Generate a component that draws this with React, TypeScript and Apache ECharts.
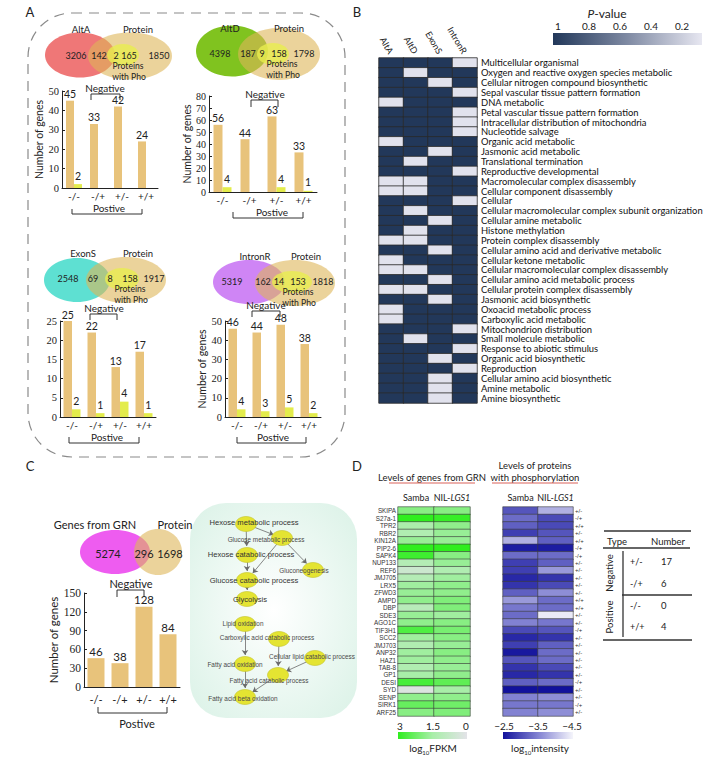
import React, { useEffect, useRef } from 'react';
import * as echarts from 'echarts';

// ---------------- data ----------------
const barCategories = ['-/-', '-/+', '+/-', '+/+'];

const altAGenes = [45, 33, 42, 24];
const altAPhos = [2, 0, 0, 0];
const altDGenes = [56, 44, 63, 33];
const altDPhos = [4, 0, 4, 1];
const exonSGenes = [25, 22, 13, 17];
const exonSPhos = [2, 1, 4, 1];
const intronRGenes = [46, 44, 48, 38];
const intronRPhos = [4, 3, 5, 2];
const grnGenes = [46, 38, 128, 84];

const vennAltA = [3206, 142, 2, 165, 1850];
const vennAltD = [4398, 187, 9, 158, 1798];
const vennExonS = [2548, 69, 8, 158, 1917];
const vennIntronR = [5319, 162, 14, 153, 1818];
const vennGRN = [5274, 296, 1698];

const goColumns = ['AltA', 'AltD', 'ExonS', 'IntronR'];
const goTerms = [
  'Multicellular organismal',
  'Oxygen and reactive oxygen species metabolic',
  'Cellular nitrogen compound biosynthetic',
  'Sepal vascular tissue pattern formation',
  'DNA metabolic',
  'Petal vascular tissue pattern formation',
  'Intracellular distribution of mitochondria',
  'Nucleotide salvage',
  'Organic acid metabolic',
  'Jasmonic acid metabolic',
  'Translational termination',
  'Reproductive developmental',
  'Macromolecular complex disassembly',
  'Cellular component disassembly',
  'Cellular',
  'Cellular macromolecular complex subunit organization',
  'Cellular amine metabolic',
  'Histone methylation',
  'Protein complex disassembly',
  'Cellular amino acid and derivative metabolic',
  'Cellular ketone metabolic',
  'Cellular macromolecular complex disassembly',
  'Cellular amino acid metabolic process',
  'Cellular protein complex disassembly',
  'Jasmonic acid biosynthetic',
  'Oxoacid metabolic process',
  'Carboxylic acid metabolic',
  'Mitochondrion distribution',
  'Small molecule metabolic',
  'Response to abiotic stimulus',
  'Organic acid biosynthetic',
  'Reproduction',
  'Cellular amino acid biosynthetic',
  'Amine metabolic',
  'Amine biosynthetic',
];
const pAltA = [1, 1, 1, 1, 0.1, 1, 1, 1, 0.1, 1, 1, 1, 0.1, 0.1, 1, 1, 1, 1, 0.1, 1, 0.1, 0.1, 1, 0.1, 1, 0.1, 0.1, 1, 1, 1, 1, 1, 1, 1, 1];
const pAltD = [1, 0.1, 1, 1, 1, 1, 1, 1, 1, 1, 0.1, 1, 0.1, 0.1, 1, 0.1, 1, 0.1, 0.1, 1, 1, 0.1, 1, 0.1, 1, 1, 1, 1, 0.1, 1, 1, 1, 1, 1, 1];
const pExonS = [1, 1, 0.1, 1, 1, 1, 1, 1, 1, 0.1, 1, 1, 1, 1, 1, 1, 0.1, 1, 1, 0.1, 1, 1, 0.1, 1, 0.1, 1, 1, 1, 1, 1, 0.1, 1, 0.1, 0.1, 0.1];
const pIntronR = [0.1, 1, 1, 0.1, 1, 0.1, 0.1, 0.1, 1, 1, 1, 0.1, 1, 1, 0.1, 1, 1, 1, 1, 1, 1, 1, 1, 1, 1, 1, 1, 0.1, 1, 0.1, 1, 0.1, 1, 1, 1];
const pValueTicks = [1, 0.8, 0.6, 0.4, 0.2];

const nodeNames = [
  'Hexose metabolic process',
  'Glucose metabolic process',
  'Hexose catabolic process',
  'Gluconeogenesis',
  'Glucose catabolic process',
  'Glycolysis',
  'Lipid oxidation',
  'Carboxylic acid catabolic process',
  'Fatty acid oxidation',
  'Cellular lipid catabolic process',
  'Fatty acid catabolic process',
  'Fatty acid beta oxidation',
];
const nodeX = [56, 92, 57, 123, 57, 57, 55, 89, 55, 125, 88, 55];
const nodeY = [21, 35, 52, 67, 77, 96, 121, 136, 161, 155, 172, 194];
const edgeFrom = [0, 0, 1, 1, 2, 4, 6, 7, 9, 8, 10];
const edgeTo = [1, 2, 3, 4, 4, 5, 8, 10, 10, 11, 11];

const genes = ['SKIPA', 'S27a-1', 'TPR2', 'RBR2', 'KIN12A', 'PIP2-6', 'SAPK4', 'NUP133', 'REF6', 'JMJ705', 'LRX5', 'ZFWD3', 'AMPD', 'DBP', 'SDE3', 'AGO1C', 'TIF3H1', 'SCC2', 'JMJ703', 'ANP32', 'HAZ1', 'TAB-8', 'GP1', 'DESI', 'SYD', 'SENP', 'SIRK1', 'ARF25'];
const sampleNames = ['Samba', 'NIL-LGS1'];
const fpkmSamba = [1.9, 3.0, 1.4, 1.3, 1.7, 3.0, 2.8, 1.2, 0.6, 1.2, 1.6, 1.7, 1.8, 1.1, 1.7, 1.8, 2.6, 1.6, 1.3, 1.6, 1.6, 1.3, 1.5, 2.7, 0.2, 1.8, 2.3, 1.9];
const fpkmNIL = [1.9, 2.9, 1.8, 1.7, 1.7, 3.0, 1.9, 1.7, 1.3, 1.6, 1.8, 1.8, 2.0, 2.0, 1.6, 1.9, 2.1, 1.9, 1.7, 1.9, 1.8, 1.7, 1.8, 2.4, 1.5, 1.8, 2.2, 2.0];
const intensitySamba = [-3.1, -3.3, -3.2, -2.9, -3.9, -2.6, -3.3, -2.9, -2.9, -2.7, -2.8, -3.2, -3.7, -3.4, -3.3, -3.5, -3.0, -2.7, -2.9, -2.55, -3.1, -2.8, -2.7, -3.2, -2.5, -3.5, -3.4, -3.5];
const intensityNIL = [-3.9, -3.0, -3.0, -3.1, -3.2, -2.6, -3.3, -3.2, -3.7, -2.8, -3.0, -3.6, -3.3, -3.3, -4.4, -3.4, -3.1, -2.8, -3.2, -3.3, -3.3, -3.0, -2.8, -3.3, -2.5, -3.6, -3.4, -3.6];
const regTypes = ['+/-', '-/+', '+/+', '+/-', '+/+', '-/+', '-/+', '+/-', '+/-', '+/-', '+/-', '+/-', '+/+', '+/+', '+/-', '+/-', '-/+', '+/-', '+/-', '+/-', '+/-', '+/-', '+/-', '-/+', '+/-', '+/-', '-/+', '+/-'];
const fpkmTicks = [3, 1.5, 0];
const intensityTicks = [-2.5, -3.5, -4.5];

const tableTypes = ['+/-', '-/+', '-/-', '+/+'];
const tableNumbers = [17, 6, 0, 4];

// ---------------- styles ----------------
const FONT = 'Lato, "Open Sans", sans-serif';
const SERIF = '"Liberation Serif", "DejaVu Serif", serif';
const ORANGE = '#e8c37b';
const YELLOW = '#e3ec4c';
const PROTEIN = '#deb658';
const INNER = '#e9ed4f';
const INK = '#222';

const T = (x: number, y: number, text: string, size = 10, extra: any = {}) => ({
  type: 'text',
  x,
  y,
  style: {
    text,
    fontSize: size,
    fontFamily: FONT,
    fill: INK,
    align: 'center',
    verticalAlign: 'middle',
    textAlign: 'center',
    textVerticalAlign: 'middle',
    ...extra,
  },
});
const L = (x1: number, y1: number, x2: number, y2: number, w = 1, color = INK) => ({
  type: 'line',
  shape: { x1, y1, x2, y2 },
  style: { stroke: color, lineWidth: w },
});

function vennEls(g: any, color: string, name: string, counts: number[], size = 9.5) {
  const els: any[] = [
    { type: 'ellipse', shape: { cx: g.l[0], cy: g.l[1], rx: g.l[2], ry: g.l[3] }, style: { fill: color } },
    { type: 'ellipse', shape: { cx: g.p[0], cy: g.p[1], rx: g.p[2], ry: g.p[3] }, style: { fill: PROTEIN, opacity: 0.6 } },
  ];
  if (g.i) {
    els.push({ type: 'ellipse', shape: { cx: g.i[0], cy: g.i[1], rx: g.i[2], ry: g.i[3] }, style: { fill: INNER, opacity: 0.8 } });
  }
  els.push(T(g.ln[0], g.ln[1], name, size));
  els.push(T(g.pn[0], g.pn[1], 'Protein', size));
  counts.forEach((c, k) => els.push(T(g.nx[k], g.ny, String(c), g.w ? 9 : size)));
  if (g.w) {
    els.push(T(g.w[0], g.w[1], 'Proteins', 8.6));
    els.push(T(g.w[0] + 1, g.w[1] + 11, 'with Pho', 8.6));
  }
  return els;
}

function bracket(x1: number, x2: number, y: number, leg: number, label: string, tx: number, ty: number, size = 10) {
  return [
    { type: 'polyline', shape: { points: [[x1, y + leg], [x1, y], [x2, y], [x2, y + leg]] }, style: { stroke: '#333', lineWidth: 1, fill: 'none' } },
    T(tx, ty, label, size),
  ];
}

function buildOption() {
  const grids: any[] = [];
  const xAxes: any[] = [];
  const yAxes: any[] = [];
  const series: any[] = [];
  const visualMaps: any[] = [];

  const addBars = (box: number[], max: number, interval: number, orangeVals: number[], yellowVals: number[] | null,
    showName: boolean, nameGap: number, barW: number, valSize: number, tickSize: number, labelMargin: number) => {
    const gi = grids.length;
    grids.push({ left: box[0], top: box[1], width: box[2], height: box[3] });
    xAxes.push({
      type: 'category', gridIndex: gi, data: barCategories,
      axisLine: { lineStyle: { color: INK, width: 1 } }, axisTick: { show: false },
      axisLabel: { interval: 0, fontFamily: FONT, fontSize: valSize, color: INK, margin: labelMargin },
    });
    yAxes.push({
      type: 'value', gridIndex: gi, min: 0, max, interval,
      splitLine: { show: false },
      axisLine: { show: true, lineStyle: { color: INK, width: 1 } },
      axisTick: { show: true, inside: true, length: 3, lineStyle: { color: INK } },
      axisLabel: { fontFamily: SERIF, fontSize: tickSize, color: INK, margin: 3 },
      name: showName ? 'Number of genes' : '', nameLocation: 'middle', nameGap,
      nameTextStyle: { fontFamily: FONT, fontSize: valSize + 0.5, color: INK },
    });
    series.push({
      type: 'bar', xAxisIndex: gi, yAxisIndex: gi, data: orangeVals, barWidth: barW, barGap: '0%',
      itemStyle: { color: ORANGE },
      label: { show: true, position: 'top', distance: 1, fontFamily: FONT, fontSize: valSize + 0.5, color: INK },
    });
    if (yellowVals) {
      series.push({
        type: 'bar', xAxisIndex: gi, yAxisIndex: gi, data: yellowVals, barWidth: barW, barGap: '0%',
        itemStyle: { color: YELLOW },
        label: { show: true, position: 'top', distance: 3, fontFamily: FONT, fontSize: valSize + 0.5, color: INK,
          formatter: (p: any) => (p.value ? String(p.value) : '') },
      });
    }
  };

  addBars([62, 91, 96, 97], 50, 10, altAGenes, altAPhos, true, 12, 8, 10, 10.5, 3);
  addBars([209, 96, 108, 96], 80, 10, altDGenes, altDPhos, true, 9, 9, 10, 10, 3);
  addBars([60, 321, 96, 96], 25, 5, exonSGenes, exonSPhos, false, 12, 8.5, 10, 10.5, 3);
  addBars([225, 321, 96, 96], 50, 10, intronRGenes, intronRPhos, true, 16, 8.5, 10, 10.5, 3);
  addBars([84, 593, 96, 94], 150, 30, grnGenes, null, true, 20, 17, 11, 11.5, 7);

  // ----- B heatmap -----
  {
    const gi = grids.length;
    grids.push({ left: 379, top: 58, width: 98, height: 345 });
    xAxes.push({
      type: 'category', gridIndex: gi, data: goColumns, position: 'top',
      axisLine: { show: false }, axisTick: { show: false },
      axisLabel: { rotate: 60, fontFamily: FONT, fontSize: 9, color: INK, margin: 5 },
    });
    yAxes.push({
      type: 'category', gridIndex: gi, data: goTerms, inverse: true, position: 'right',
      axisLine: { show: false }, axisTick: { show: false },
      axisLabel: { interval: 0, fontFamily: FONT, fontSize: 9.4, color: '#111', margin: 4, lineHeight: 9.8 },
    });
    const data: any[] = [];
    [pAltA, pAltD, pExonS, pIntronR].forEach((col, c) => col.forEach((v, r) => data.push([c, r, v])));
    visualMaps.push({
      type: 'continuous', show: false, seriesIndex: series.length, dimension: 2, min: 0.07, max: 1,
      inRange: { color: ['#e7e7f1', '#8a95ac', '#22385a'] },
    });
    series.push({
      type: 'heatmap', xAxisIndex: gi, yAxisIndex: gi, data,
      itemStyle: { borderColor: '#2a2a2a', borderWidth: 0.8 },
    });
  }

  // ----- D green heatmap -----
  const sampleLabel = {
    interval: 0, fontFamily: FONT, fontSize: 9, color: INK, margin: 5,
    formatter: (v: string) => (v === 'NIL-LGS1' ? '{n|NIL-}{i|LGS1}' : v),
    rich: { n: { fontFamily: FONT, fontSize: 9, color: INK }, i: { fontFamily: FONT, fontSize: 9, color: INK, fontStyle: 'italic' } },
  };
  {
    const gi = grids.length;
    grids.push({ left: 398, top: 507, width: 72, height: 209 });
    xAxes.push({ type: 'category', gridIndex: gi, data: sampleNames, position: 'top', axisLine: { show: false }, axisTick: { show: false }, axisLabel: sampleLabel });
    yAxes.push({
      type: 'category', gridIndex: gi, data: genes, inverse: true, position: 'left',
      axisLine: { show: false }, axisTick: { show: false },
      axisLabel: { interval: 0, fontFamily: '"Liberation Sans", sans-serif', fontSize: 6.3, color: '#333', margin: 2 },
    });
    const data: any[] = [];
    [fpkmSamba, fpkmNIL].forEach((col, c) => col.forEach((v, r) => data.push([c, r, v])));
    visualMaps.push({
      type: 'continuous', show: false, seriesIndex: series.length, dimension: 2, min: 0, max: 3,
      inRange: { color: ['#e3e3e8', '#a8eea8', '#2fee1e'] },
    });
    series.push({ type: 'heatmap', xAxisIndex: gi, yAxisIndex: gi, data, itemStyle: { borderColor: '#3a3a3a', borderWidth: 0.6 } });
  }

  // ----- D blue heatmap -----
  {
    const gi = grids.length;
    grids.push({ left: 503, top: 507, width: 70, height: 209 });
    xAxes.push({ type: 'category', gridIndex: gi, data: sampleNames, position: 'top', axisLine: { show: false }, axisTick: { show: false }, axisLabel: sampleLabel });
    yAxes.push({
      type: 'category', gridIndex: gi, data: genes, inverse: true, position: 'right',
      axisLine: { show: false }, axisTick: { show: false },
      axisLabel: { interval: 0, fontFamily: '"Liberation Sans", sans-serif', fontSize: 6, color: '#333', margin: 2,
        formatter: (_v: string, i: number) => regTypes[i] },
    });
    const data: any[] = [];
    [intensitySamba, intensityNIL].forEach((col, c) => col.forEach((v, r) => data.push([c, r, v])));
    visualMaps.push({
      type: 'continuous', show: false, seriesIndex: series.length, dimension: 2, min: -4.5, max: -2.5,
      inRange: { color: ['#f5f5fb', '#8282d2', '#12129c'] },
    });
    series.push({ type: 'heatmap', xAxisIndex: gi, yAxisIndex: gi, data, itemStyle: { borderColor: '#3a3a3a', borderWidth: 0.6 } });
  }

  // ----- C network -----
  {
    const gi = grids.length;
    grids.push({ left: 190, top: 503, width: 167, height: 215 });
    xAxes.push({ type: 'value', gridIndex: gi, min: 0, max: 167, show: false });
    yAxes.push({ type: 'value', gridIndex: gi, min: 0, max: 215, inverse: true, show: false });
    const labelOffsets = [[8, -2], [-16, 1], [4, -1], [-9, 0], [7, 0], [3, 0], [-2, -1], [-12, -2], [-10, 0], [-3, -2], [-9, 5], [-2, 1]];
    const big = [0, 2, 4, 5];
    series.push({
      type: 'graph', layout: 'none', coordinateSystem: 'cartesian2d', xAxisIndex: gi, yAxisIndex: gi,
      symbol: 'circle', symbolSize: [21, 15],
      itemStyle: { color: '#e4e432', borderColor: '#c4c42c', borderWidth: 0.6 },
      edgeSymbol: ['none', 'arrow'], edgeSymbolSize: 5,
      lineStyle: { color: '#6a6a6a', width: 0.8, opacity: 1, curveness: 0 },
      data: nodeNames.map((n, i) => ({
        name: n,
        value: [nodeX[i], nodeY[i]],
        label: {
          show: true, position: 'inside', offset: labelOffsets[i],
          fontFamily: '"Liberation Sans", sans-serif',
          fontSize: big.includes(i) ? 7.6 : 6.4, color: big.includes(i) ? '#333' : '#4a4a4a',
        },
      })),
      links: edgeFrom.map((s, k) => ({ source: s, target: edgeTo[k] })),
      emphasis: { disabled: true },
    });
  }

  // ---------------- graphics ----------------
  const g: any[] = [];
  // panel letters
  g.push(T(30, 12, 'A', 13), T(357, 12, 'B', 13), T(30, 466, 'C', 13), T(357, 466, 'D', 13));
  // dashed frame of A
  g.push({ type: 'rect', shape: { x: 28, y: 13, width: 317, height: 444, r: 44 }, style: { fill: 'none', stroke: '#8a8a8a', lineWidth: 1.2, lineDash: [10, 7] } });

  // venns
  g.push(...vennEls({ l: [80, 55, 35, 22.5], p: [130, 56, 42, 23.5], i: [123, 55, 16, 11], ln: [81, 29], pn: [138, 29], nx: [76, 99, 116, 129, 159], ny: 55, w: [128, 66] }, '#ef7777', 'AltA', vennAltA));
  g.push(...vennEls({ l: [232, 51, 36, 25.5], p: [279, 54, 41, 26], i: [273, 54, 16, 11], ln: [230, 28], pn: [289, 28], nx: [220, 248, 262, 279, 304], ny: 53, w: [282, 64] }, '#80c31f', 'AltD', vennAltD));
  g.push(...vennEls({ l: [77, 280, 33, 22], p: [126, 280, 40, 23], i: [122, 279, 17, 11], ln: [83, 253], pn: [138, 253], nx: [68, 93, 110, 130, 154], ny: 278, w: [130, 289] }, '#5ee0d2', 'ExonS', vennExonS));
  g.push(...vennEls({ l: [249, 282, 36, 22], p: [295, 283, 40, 23], i: [292, 282, 20, 11], ln: [255, 256], pn: [306, 256], nx: [232, 263, 279, 298, 323], ny: 281, w: [298, 292] }, '#cf85f5', 'IntronR', vennIntronR));
  g.push(...vennEls({ l: [115, 552, 35, 22], p: [158, 552, 24, 23], ln: [95, 524], pn: [175, 524], nx: [108, 144, 170], ny: 553 }, '#ee5cf0', 'Genes from GRN', vennGRN, 11));

  // brackets
  g.push(...bracket(91, 120, 94, 6, 'Negative', 105, 88));
  g.push(...bracket(72, 142, 214, -5, 'Postive', 109, 208));
  g.push(...bracket(251, 278, 100, 7, 'Negative', 265, 94));
  g.push(...bracket(233, 303, 218, -6, 'Postive', 272, 212));
  g.push(...bracket(90, 117, 314, 6, 'Negative', 104, 308));
  g.push(...bracket(69, 139, 443, -6, 'Postive', 107, 437));
  g.push(...bracket(252, 280, 311, 6, 'Negative', 266, 305));
  g.push(...bracket(237, 306, 443, -6, 'Postive', 273, 437));
  g.push(...bracket(117, 144, 590, 7, 'Negative', 131, 583, 11));
  g.push(...bracket(98, 167, 713, -6, 'Postive', 137, 723, 11));

  // network background
  g.push({
    type: 'rect', z: -1, shape: { x: 190, y: 503, width: 167, height: 215, r: 36 },
    style: { fill: new echarts.graphic.RadialGradient(0.5, 0.5, 0.75, [{ offset: 0, color: '#ffffff' }, { offset: 1, color: '#d8f1e5' }]) },
  });

  // B colorbar
  g.push({ type: 'text', x: 607, y: 13, style: { text: '{i|P}{n|-value}', align: 'center', verticalAlign: 'middle', textAlign: 'center', textVerticalAlign: 'middle',
    rich: { i: { fontSize: 12, fontFamily: FONT, fontStyle: 'italic', fill: INK, color: INK }, n: { fontSize: 12, fontFamily: FONT, fill: INK, color: INK } } } });
  g.push({ type: 'rect', shape: { x: 553, y: 33, width: 149, height: 12 },
    style: { fill: new echarts.graphic.LinearGradient(0, 0, 1, 0, [{ offset: 0, color: '#22385a' }, { offset: 0.5, color: '#7f8aa3' }, { offset: 1, color: '#e7e7f1' }]) } });
  pValueTicks.forEach((v) => g.push(T(558 + (1 - v) * 155, 26, String(v), 10)));

  // D headers
  g.push(T(432, 477, 'Levels of genes from GRN', 9.5));
  g.push(L(389, 483, 475, 483, 1.2, '#d9625a'));
  g.push(T(535, 465, 'Levels of proteins', 9.5));
  g.push(T(535, 477, 'with phosphorylation', 9.5));
  g.push(L(492, 483, 578, 483, 1.2, '#d9625a'));

  // D colorbars
  g.push({ type: 'rect', shape: { x: 398, y: 732, width: 69, height: 7 },
    style: { fill: new echarts.graphic.LinearGradient(0, 0, 1, 0, [{ offset: 0, color: '#2fee1e' }, { offset: 0.5, color: '#a8eea8' }, { offset: 1, color: '#e3e3e8' }]) } });
  fpkmTicks.forEach((v, k) => g.push(T(400 + k * 33, 726, String(v), 10)));
  g.push({ type: 'text', x: 433, y: 748, style: { text: '{a|log}{s|10}{a|FPKM}', align: 'center', verticalAlign: 'middle', textAlign: 'center', textVerticalAlign: 'middle',
    rich: { a: { fontSize: 10, fontFamily: FONT, fill: INK, color: INK, lineHeight: 14 }, s: { fontSize: 6, fontFamily: FONT, fill: INK, color: INK, lineHeight: 14, padding: [8, 0, 0, 0] } } } });
  g.push({ type: 'rect', shape: { x: 503, y: 732, width: 70, height: 7 },
    style: { fill: new echarts.graphic.LinearGradient(0, 0, 1, 0, [{ offset: 0, color: '#12129c' }, { offset: 0.5, color: '#8282d2' }, { offset: 1, color: '#f5f5fb' }]) } });
  intensityTicks.forEach((v, k) => g.push(T(504 + k * 34, 726, String(v).replace('-', '\u2212'), 10)));
  g.push({ type: 'text', x: 540, y: 748, style: { text: '{a|log}{s|10}{a|intensity}', align: 'center', verticalAlign: 'middle', textAlign: 'center', textVerticalAlign: 'middle',
    rich: { a: { fontSize: 10, fontFamily: FONT, fill: INK, color: INK, lineHeight: 14 }, s: { fontSize: 6, fontFamily: FONT, fill: INK, color: INK, lineHeight: 14, padding: [8, 0, 0, 0] } } } });

  // D table
  g.push(L(604, 531, 691, 531, 1.3, '#333'));
  g.push(T(617, 541, 'Type', 9.5), T(668, 541, 'Number', 9.5));
  g.push(L(603, 548, 690, 548, 1.3, '#333'));
  g.push(L(623, 551, 623, 637, 1.3, '#333'));
  g.push(L(622, 595, 692, 595, 1.3, '#333'));
  g.push(L(603, 640, 692, 640, 1.3, '#333'));
  g.push({ ...T(609, 573, 'Negative', 9.5), rotation: Math.PI / 2 });
  g.push({ ...T(609, 617, 'Positive', 9.5), rotation: Math.PI / 2 });
  const rowY = [561, 583, 605, 626];
  tableTypes.forEach((t, k) => {
    g.push(T(630, rowY[k], t, 9, { align: 'left', textAlign: 'left' }));
    g.push(T(661, rowY[k], String(tableNumbers[k]), 9.5, { align: 'left', textAlign: 'left' }));
  });

  return {
    animation: false,
    backgroundColor: '#ffffff',
    textStyle: { fontFamily: FONT },
    grid: grids,
    xAxis: xAxes,
    yAxis: yAxes,
    visualMap: visualMaps,
    series,
    graphic: { elements: g },
  };
}

export default function App() {
  const ref = useRef<HTMLDivElement>(null);
  useEffect(() => {
    document.body.style.margin = '0';
    const chart = echarts.init(ref.current as HTMLDivElement, undefined, { renderer: 'svg', width: 720, height: 760 });
    chart.setOption(buildOption() as any);
    return () => chart.dispose();
  }, []);
  return <div ref={ref} style={{ width: 720, height: 760 }} />;
}
